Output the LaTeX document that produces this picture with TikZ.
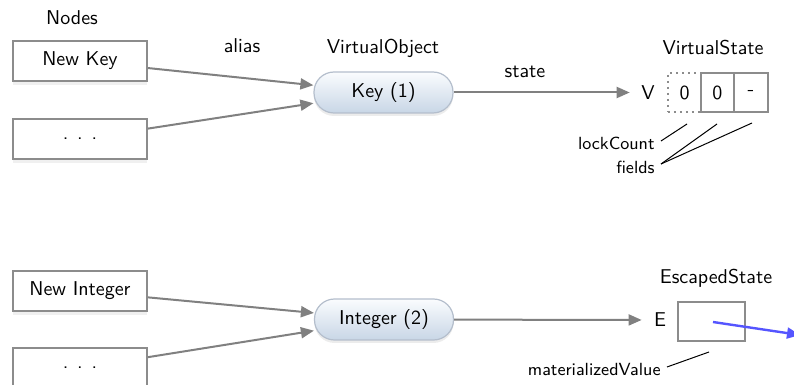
\documentclass[tikz,border=0pt]{standalone}
\usetikzlibrary{arrows.meta,shadows}
\definecolor{linegray}{RGB}{128,128,128}
\definecolor{boxgray}{RGB}{140,140,140}
\definecolor{objtop}{RGB}{250,252,254}
\definecolor{objbot}{RGB}{200,214,230}
\definecolor{objedge}{RGB}{180,190,204}
\definecolor{ptrblue}{RGB}{85,85,255}
\tikzset{
  every node/.style={font=\sffamily},
  nodebox/.style={draw=boxgray, line width=1pt, fill=white, minimum width=67pt,
    minimum height=20pt, inner sep=0pt,
    drop shadow={opacity=0.12, shadow xshift=0pt, shadow yshift=-2pt}},
  objnode/.style={draw=objedge, line width=0.6pt, rounded corners=10pt,
    top color=objtop, bottom color=objbot, minimum width=69.5pt,
    minimum height=20.5pt, inner sep=0pt,
    drop shadow={opacity=0.15, shadow xshift=0pt, shadow yshift=-1.5pt}},
  cell/.style={draw=boxgray, line width=1pt, fill=white, minimum width=16.75pt,
    minimum height=19.5pt, inner sep=0pt},
  dotcell/.style={cell, dotted},
  ref/.style={draw=linegray, line width=1pt, -{Triangle[length=6.5pt,width=5.5pt]}},
  note/.style={font=\sffamily\fontsize{8.8}{10}\selectfont, inner sep=1pt},
  noteline/.style={draw=black, line width=0.5pt},
}
\begin{document}
\begin{tikzpicture}[x=0.5pt, y=-0.5pt]
\useasboundingbox (0,0) rectangle (794,385);

% column headings
\node (hnodes) at (72,18) {Nodes};
\node (halias) at (242,46) {alias};
\node (hvobj) at (383,48) {VirtualObject};
\node (hstate) at (525,72) {state};
\node (hvstate) at (713,48) {VirtualState};
\node (hestate) at (716,278) {EscapedState};

% upper group: a virtual Key object
\node[nodebox] (newkey) at (80,61) {New Key};
\node[nodebox] (dots1) at (80,139) {. . .};
\node[objnode] (key) at (383.5,92.5) {Key (1)};
\node[inner xsep=5.6pt] (vlab) at (648,92.5) {V};
\node[dotcell] (lock) at (684.5,92.5) {0};
\node[cell] (f1) at (717.25,92.5) {0};
\node[cell] (f2) at (751,92.5) {-};

\draw[ref] (newkey) -- (key);
\draw[ref] (dots1) -- (key);
\draw[ref] (key) -- (vlab);

\node[note, anchor=east] (lcnt) at (657,143) {lockCount};
\node[note, anchor=east] (flds) at (657,167) {fields};
\coordinate (lockpt) at (687,124);
\coordinate (f1pt) at (717,124);
\coordinate (f2pt) at (752,123);
\draw[noteline] (lcnt.east) ++(4,-2) coordinate (lcs) -- (lockpt);
\draw[noteline] (flds.east) ++(4,-3) coordinate (fls) -- (f1pt);
\draw[noteline] (fls) -- (f2pt);

% lower group: an escaped Integer object
\node[nodebox] (newint) at (80,291) {New Integer};
\node[nodebox] (dots2) at (80,368) {. . .};
\node[objnode] (int) at (384,319.5) {Integer (2)};
\node[inner xsep=6pt] (elab) at (660,320) {E};
\node[cell, minimum width=33.5pt] (mat) at (711.5,321.5) {};

\draw[ref] (newint) -- (int);
\draw[ref] (dots2) -- (int);
\draw[ref] (int) -- (elab);

\coordinate (matsrc) at (713,322);
\coordinate (matdst) at (800,335);
\draw[draw=ptrblue, line width=1.2pt, -{Triangle[length=6.5pt,width=5.5pt]}] (matsrc) -- (matdst);

\node[note, anchor=east] (mval) at (663,369) {materializedValue};
\coordinate (matpt) at (709,352);
\draw[noteline] (mval.east) ++(4,-2) -- (matpt);
\end{tikzpicture}
\end{document}
